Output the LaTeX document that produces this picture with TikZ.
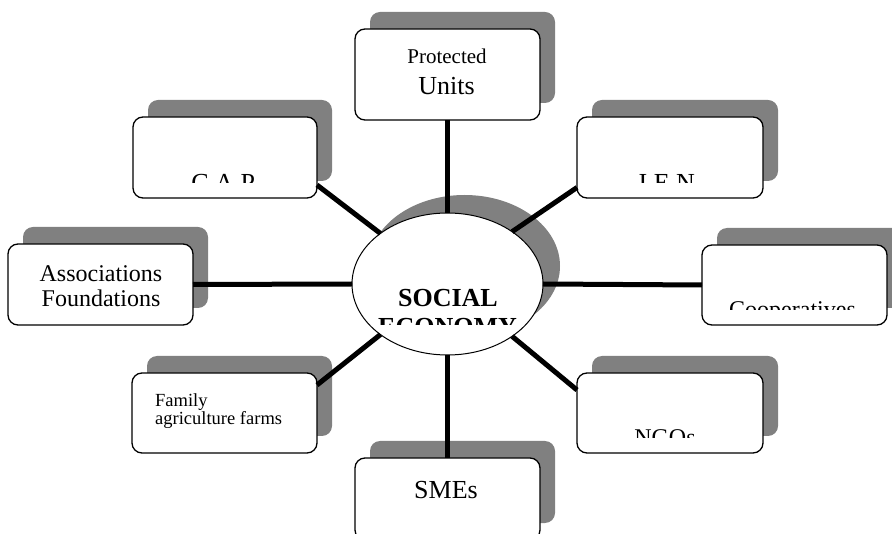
\documentclass[tikz,border=0pt]{standalone}
\usepackage{fontspec}
\setmainfont{Liberation Serif}
\usetikzlibrary{shadows,shapes.geometric}
\definecolor{shadowgray}{RGB}{128,128,128}
\tikzset{
  boxnode/.style={draw=black, line width=1.3pt, fill=white, rounded corners=10pt,
    inner sep=0pt, outer sep=0pt, minimum width=185pt, minimum height=81pt,
    general shadow={fill=shadowgray, shadow xshift=15pt, shadow yshift=17pt}},
  hubnode/.style={ellipse, draw=black, line width=1pt, fill=white, inner sep=0pt,
    outer sep=0pt, minimum width=191pt, minimum height=142pt,
    general shadow={fill=shadowgray, shadow xshift=17pt, shadow yshift=18pt}},
  spoke/.style={line width=5pt, draw=black},
  lbl/.style={anchor=base, inner sep=0pt, font=\fontsize{24}{26}\selectfont},
  bigfont/.style={font=\fontsize{26}{28}\selectfont},
  hubfont/.style={font=\fontsize{26}{28}\selectfont\bfseries},
}
\begin{document}
\begin{tikzpicture}[x=1pt,y=-1pt]
\useasboundingbox (0,0) rectangle (892,534);
\clip (0,0) rectangle (892,534);
\fill[white] (0,0) rectangle (892,534);

% boxes
\node[boxnode, minimum height=91pt] (pu) at (447.5,74.5) {};
\node[boxnode, minimum width=184pt] (cap) at (225,157.5) {};
\node[boxnode, minimum width=186pt] (ien) at (670,157.5) {};
\node[boxnode] (assoc) at (100.5,284.5) {};
\node[boxnode, minimum height=80pt] (coop) at (794.5,285) {};
\node[boxnode, minimum height=80pt] (fam) at (224.5,413) {};
\node[boxnode, minimum width=186pt, minimum height=80pt] (ngo) at (670,413) {};
\node[boxnode, minimum height=82pt] (sme) at (447.5,499) {};
\node[hubnode] (ell) at (447.5,284) {};

% connectors
\draw[spoke] (pu.south) -- (ell.north);
\draw[spoke] (ell.south) -- (sme.north);
\draw[spoke] (assoc.east) -- (ell.west);
\draw[spoke] (ell.east) -- (coop.west);
\draw[spoke] (ell.143) -- ([yshift=-27.5pt]cap.east);
\draw[spoke] (ell.39) -- ([yshift=-30pt]ien.west);
\draw[spoke] (ell.217) -- ([yshift=28pt]fam.east);
\draw[spoke] (ell.321) -- ([yshift=23pt]ngo.west);

% texts
\node[lbl, font=\fontsize{21}{23}\selectfont] (pu-a) at (447,64) {Protected};
\node[lbl, bigfont] (pu-b) at (446.5,95) {Units};
\node[lbl] (as-a) at (101,282) {Associations};
\node[lbl] (as-b) at (101,307) {Foundations};
\node[lbl, anchor=base west, font=\fontsize{18.5}{20}\selectfont] (fa-a) at (155,407) {Family};
\node[lbl, anchor=base west, font=\fontsize{18.5}{20}\selectfont] (fa-b) at (155,425) {agriculture farms};
\node[lbl, bigfont] (sm-a) at (446,498) {SMEs};
\node[lbl, hubfont] (hub-a) at (448,307) {SOCIAL};

% clipped texts
\begin{scope}
  \clip (cap.north west) rectangle ([yshift=15pt]cap.south east);
  \node[lbl, bigfont] (cap-t) at (225,192) {C.A.P.};
\end{scope}
\begin{scope}
  \clip (ien.north west) rectangle ([yshift=15pt]ien.south east);
  \node[lbl, bigfont] (ien-t) at (670,192) {I.E.N.};
\end{scope}
\begin{scope}
  \clip (coop.north west) rectangle ([yshift=15pt]coop.south east);
  \node[lbl] (coop-t) at (792.5,318) {Cooperatives};
\end{scope}
\begin{scope}
  \clip (ngo.north west) rectangle ([yshift=15pt]ngo.south east);
  \node[lbl] (ngo-t) at (665,446) {NGOs};
\end{scope}
\begin{scope}
  \clip (ell.west |- ell.north) rectangle ([yshift=30pt]ell.east |- ell.south);
  \node[lbl, hubfont] (hub-b) at (447.5,336) {ECONOMY};
\end{scope}
\end{tikzpicture}
\end{document}
